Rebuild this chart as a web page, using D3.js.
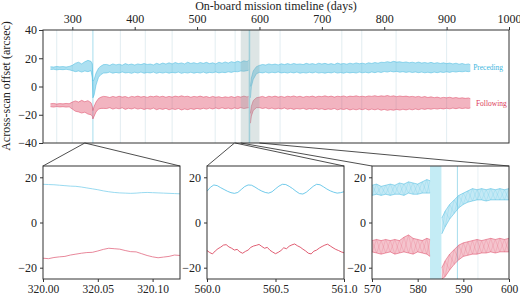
<!DOCTYPE html>
<html>
<head>
<meta charset="utf-8">
<script src="https://cdn.jsdelivr.net/npm/d3@7"></script>
<style>
  body { margin: 0; background: #fff; }
  svg { display: block; font-family: "Liberation Serif", "DejaVu Serif", serif; }
  .tick text { font-size: 12px; fill: #222; font-family: "Liberation Serif", "DejaVu Serif", serif; }
  .zoom-x .tick text { font-size: 11.5px; }
  .tick line { stroke: #333; }
</style>
</head>
<body>
<svg id="chart" width="520" height="295"></svg>
<script>
// ---- main panel: envelope of the across-scan offset band (days, arcsec)
const mainDays = [
  265, 270, 275, 280, 285, 290, 295,
  300, 305, 310, 315, 320, 325, 330,
  332, 333, 335, 338, 342, 346, 350,
  355, 360, 365, 370, 375, 380, 385, 390, 395, 400,
  405, 410, 415, 420, 425, 430, 435, 440, 445, 450,
  455, 460, 465, 470, 475, 480, 485, 490, 495, 500,
  505, 510, 515, 520, 525, 530, 535, 540, 545, 550,
  555, 560, 565, 570, 575, 580,
  582.5, 584, 585.5, 587, 590, 595,
  600, 605, 610, 615, 620, 625, 630, 635, 640, 645,
  650, 655, 660, 665, 670, 675, 680, 685, 690, 695,
  700, 705, 710, 715, 720, 725, 730, 735, 740, 745,
  750, 755, 760, 765, 770, 775, 780, 785, 790, 795,
  800, 805, 810, 815, 820, 825, 830, 835, 840, 845,
  850, 855, 860, 865, 870, 875, 880, 885, 890, 895,
  900, 905, 910, 915, 920, 925, 930, 935,
  938
];
const precHi = [
  14.0, 13.8, 14.2, 13.9, 14.1, 13.8, 14.2,
  15.0, 16.5, 17.2, 16.0, 17.5, 18.5, 17.8,
  16, 4, 5, 9.5, 13, 14.5, 15.5,
  15.6, 15.0, 16.0, 15.3, 15.8, 15.1, 16.2, 15.4, 15.9, 15.2,
  16.0, 15.5, 16.3, 15.6, 15.9, 15.3, 16.4, 15.7, 16.6, 15.9,
  16.8, 16.0, 17.0, 16.2, 16.7, 16.0, 17.2, 16.3, 16.9, 16.1,
  17.0, 16.4, 17.1, 16.2, 16.8, 16.0, 17.2, 16.5, 17.4, 16.6,
  17.6, 17.0, 17.9, 17.2, 18.2, 17.6,
  18.5, null, 0, 6, 11, 14,
  15.0, 15.6, 15.2, 16.0, 15.4, 15.9, 15.3, 16.1, 15.5, 16.2,
  15.6, 16.3, 15.7, 16.0, 15.5, 16.4, 15.8, 16.2, 15.6, 16.5,
  15.9, 16.4, 15.7, 16.2, 15.6, 16.6, 15.9, 16.3, 15.8, 16.5,
  16.0, 16.7, 16.1, 16.5, 16.0, 16.8, 16.3, 17.0, 16.5, 17.2,
  17.0, 17.6, 17.1, 17.8, 17.3, 17.5, 17.0, 17.4, 16.8, 17.2,
  16.7, 17.3, 16.6, 17.0, 16.5, 17.1, 16.4, 16.9, 16.3, 16.8,
  16.2, 16.6, 16.0, 16.5, 15.8, 16.3, 15.6, 16.0,
  15.4
];
const precLo = [
  12.0, 12.2, 11.8, 12.1, 11.9, 12.2, 11.8,
  11.2, 10.5, 11.0, 10.2, 11.0, 10.5, 11.2,
  6, -8, -6, 1, 6.5, 8.5, 9.5,
  9.6, 10.2, 9.4, 10.0, 9.5, 10.3, 9.6, 9.9, 9.3, 10.1,
  9.5, 10.2, 9.4, 9.9, 9.6, 10.2, 9.3, 10.0, 9.5, 10.1,
  9.4, 10.0, 9.6, 10.2, 9.3, 9.9, 9.5, 10.1, 9.4, 10.0,
  9.5, 10.2, 9.4, 10.0, 9.7, 10.3, 9.6, 10.1, 9.8, 10.4,
  10.0, 10.6, 10.4, 11.0, 10.8, 11.2,
  11.5, null, -8, 0, 5, 9,
  10.0, 9.6, 10.2, 9.5, 10.1, 9.7, 10.3, 9.6, 10.0, 9.5,
  10.1, 9.6, 10.2, 9.4, 9.9, 9.5, 10.1, 9.6, 10.2, 9.5,
  9.9, 9.4, 10.0, 9.6, 10.2, 9.5, 9.9, 9.4, 10.1, 9.6,
  10.0, 9.5, 10.2, 9.7, 10.1, 9.6, 10.3, 9.8, 10.4, 9.9,
  10.6, 10.2, 10.8, 10.3, 10.7, 10.1, 10.5, 10.0, 10.4, 9.9,
  10.3, 9.8, 10.2, 9.7, 10.1, 9.6, 10.2, 9.8, 10.3, 9.9,
  10.4, 10.0, 10.6, 10.2, 10.7, 10.4, 10.8, 10.5,
  10.8
];
const follHi = [
  -12.2, -12.0, -12.4, -12.1, -12.3, -12.0, -12.2,
  -11.0, -10.2, -11.0, -9.8, -10.8, -10.0, -11.5,
  -14, -17, -14, -11, -8.5, -7.5, -7,
  -7.2, -7.8, -7.0, -7.6, -6.9, -7.5, -7.1, -7.9, -7.0, -7.4,
  -6.8, -7.5, -7.0, -7.7, -6.9, -7.3, -6.7, -7.4, -6.9, -7.6,
  -7.0, -7.5, -6.8, -7.3, -6.6, -7.2, -6.9, -7.6, -7.0, -7.4,
  -6.8, -7.5, -7.1, -7.8, -7.0, -7.6, -7.2, -7.9, -7.3, -7.7,
  -7.1, -7.8, -7.0, -7.5, -6.8, -7.4,
  -7, null, -19, -14, -10, -8,
  -7.5, -7.0, -7.8, -6.9, -7.4, -6.8, -7.5, -7.0, -7.6, -6.9,
  -7.3, -6.7, -7.4, -6.9, -7.6, -7.0, -7.3, -6.8, -7.5, -6.9,
  -7.2, -6.6, -7.3, -6.8, -7.5, -6.9, -7.2, -6.7, -7.4, -6.8,
  -7.1, -6.6, -7.2, -6.9, -7.3, -6.7, -7.0, -6.5, -7.1, -6.6,
  -6.9, -6.4, -7.0, -6.6, -7.2, -6.7, -7.1, -6.8, -7.3, -7.0,
  -7.4, -7.0, -7.6, -7.1, -7.8, -7.3, -7.9, -7.5, -8.1, -7.7,
  -8.0, -7.6, -8.2, -7.8, -8.3, -8.0, -8.4, -8.1,
  -8.6
];
const follLo = [
  -14.3, -14.6, -14.2, -14.5, -14.3, -14.6, -14.4,
  -16.0, -17.5, -18.0, -18.8, -18.2, -19.5, -20.0,
  -21, -23, -21, -18, -16, -15.5, -15.5,
  -15.6, -15.0, -16.0, -15.3, -15.8, -15.1, -16.2, -15.4, -15.9, -15.2,
  -16.0, -15.4, -16.3, -15.6, -16.1, -15.3, -16.4, -15.7, -16.2, -15.5,
  -16.5, -15.8, -16.3, -15.6, -16.6, -15.9, -16.4, -15.7, -16.2, -15.5,
  -16.1, -15.4, -16.0, -15.3, -15.9, -15.2, -15.8, -15.1, -15.7, -15.3,
  -15.9, -15.2, -15.7, -15.0, -15.6, -15.2,
  -15, null, -26, -21, -17, -15,
  -15.0, -15.6, -15.1, -15.8, -15.3, -16.0, -15.4, -15.9, -15.2, -16.1,
  -15.5, -16.2, -15.6, -16.0, -15.4, -16.3, -15.7, -16.1, -15.5, -16.2,
  -15.8, -16.4, -15.9, -16.2, -15.6, -16.5, -15.9, -16.3, -15.7, -16.6,
  -16.0, -16.5, -15.9, -16.4, -15.8, -16.6, -16.0, -16.5, -15.9, -16.8,
  -16.2, -16.9, -16.4, -16.8, -16.2, -16.7, -16.1, -16.6, -16.0, -16.5,
  -15.9, -16.4, -15.8, -16.2, -15.7, -16.1, -15.6, -16.0, -15.5, -15.9,
  -15.4, -15.8, -15.3, -15.7, -15.2, -15.6, -15.3, -15.5,
  -15.2
];

// faint event markers and the cyan (decontamination) marks
const eventDays = [275, 300, 377, 417, 460, 529, 561, 633, 732, 764, 819, 900];
const cyanDays = [333, 588.7];
const cyanSpan = [582.7, 585.2];
const zoomSpan = [570, 600];

// ---- zoom 1: 320.00 - 320.125 days
const z1Days = [320.000, 320.005, 320.010, 320.015, 320.020, 320.025, 320.030, 320.035, 320.040,
  320.045, 320.050, 320.055, 320.060, 320.065, 320.070, 320.075, 320.080, 320.085, 320.090,
  320.095, 320.100, 320.105, 320.110, 320.115, 320.120, 320.125];
const z1Prec = [16.9, 16.8, 16.7, 16.5, 16.3, 16.1, 16.0, 15.7, 15.3, 14.9, 14.5, 14.0, 13.6,
  13.3, 13.1, 13.0, 12.9, 13.0, 13.2, 13.3, 13.2, 13.1, 13.0, 12.9, 12.8, 12.7];
const z1Foll = [-15.8, -16.0, -15.5, -15.2, -15.0, -14.4, -14.0, -13.6, -13.3, -13.2, -12.6, -11.9,
  -11.4, -11.6, -11.8, -12.4, -12.9, -13.0, -13.8, -14.6, -15.2, -15.6, -15.3, -15.0, -14.4, -14.6];

// ---- zoom 2: 560.0 - 561.0 days
const z2DaysP = [560.000, 560.025, 560.050, 560.075, 560.100, 560.125, 560.150, 560.175, 560.200,
  560.225, 560.250, 560.275, 560.300, 560.325, 560.350, 560.375, 560.400, 560.425, 560.450,
  560.475, 560.500, 560.525, 560.550, 560.575, 560.600, 560.625, 560.650, 560.675, 560.700,
  560.725, 560.750, 560.775, 560.800, 560.825, 560.850, 560.875, 560.900, 560.925, 560.950,
  560.975, 561.000];
const z2Prec = [13.8, 15.6, 16.6, 16.3, 15.4, 14.6, 13.8, 13.2, 12.9, 13.3, 14.6, 15.9, 16.6,
  16.5, 15.7, 14.7, 13.9, 13.3, 13.0, 13.6, 14.9, 16.1, 16.9, 16.8, 16.0, 15.0, 13.8, 12.8,
  12.6, 13.4, 14.7, 16.0, 16.9, 16.7, 15.8, 14.8, 14.0, 13.4, 13.0, 13.2, 13.6];
const z2DaysF = [560.00, 560.02, 560.04, 560.06, 560.08, 560.10, 560.12, 560.14, 560.16, 560.18,
  560.20, 560.22, 560.24, 560.26, 560.28, 560.30, 560.32, 560.34, 560.36, 560.38,
  560.40, 560.42, 560.44, 560.46, 560.48, 560.50, 560.52, 560.54, 560.56, 560.58,
  560.60, 560.62, 560.64, 560.66, 560.68, 560.70, 560.72, 560.74, 560.76, 560.78,
  560.80, 560.82, 560.84, 560.86, 560.88, 560.90, 560.92, 560.94, 560.96, 560.98, 561.00];
const z2Foll = [-12.4, -13.3, -13.9, -12.6, -11.6, -10.9, -10.0, -9.8, -10.8, -11.4,
  -12.2, -11.9, -13.0, -13.6, -12.8, -12.2, -11.0, -10.4, -10.1, -9.7,
  -10.6, -11.4, -11.0, -12.3, -13.1, -13.8, -13.2, -12.4, -11.2, -11.6,
  -10.5, -9.9, -9.5, -10.3, -10.9, -11.8, -12.6, -13.6, -13.9, -12.7,
  -12.2, -11.3, -10.6, -10.0, -9.6, -10.4, -11.2, -11.9, -12.4, -13.0, -13.4];

// ---- zoom 3: 570 - 600 days (band envelope)
const z3Days = [570, 571, 572, 573, 574, 575, 576, 577, 578, 579, 580, 581, 582, 582.7,
  584, 585.3, 586, 587, 588, 589, 590, 591, 592, 593, 594, 595, 596, 597, 598, 599, 600];
const z3PrecHi = [16.5, 17, 16, 16.5, 17, 16.5, 17.5, 17, 18, 17.5, 17, 18, 19, 18.5,
  null, 2, 5, 8, 10, 12, 13, 14, 15, 14.5, 15, 14.5, 15, 14.5, 15, 14.5, 15];
const z3PrecLo = [12, 12.5, 12, 12.5, 12, 12.5, 12.5, 12, 13, 12.5, 12.5, 13, 13, 13,
  null, -5, -2, 1.5, 4, 6.5, 8, 9, 9.5, 10, 10, 9.5, 10, 10, 10, 10, 10];
const z3FollHi = [-8, -7.5, -8, -7.5, -8, -7.5, -8, -6.5, -5.5, -7, -7.5, -8, -7, -7.5,
  null, -20, -17, -14, -12, -10, -9, -8.5, -8, -7.5, -8, -7.5, -7, -7.5, -7, -7.5, -7];
const z3FollLo = [-13, -13.5, -14, -13.5, -13, -14, -13.5, -13, -13.5, -14, -13, -13.5, -14, -15,
  null, -25, -24, -21, -18.5, -16.5, -15, -14.5, -14, -14, -13.5, -13.5, -13, -13.5, -13, -13, -13];

const blue = '#3cb6de';
const red = '#dc3a5a';
const svg = d3.select('#chart');

const xMain = d3.scaleLinear().domain([253, 1000]).range([43, 509]);
const yMain = d3.scaleLinear().domain([-40, 40]).range([143, 30]);

let clipId = 0;
function clipFor(x, y) {
  const id = 'clip' + (clipId++);
  svg.append('clipPath').attr('id', id).append('rect')
    .attr('x', x.range()[0]).attr('y', y.range()[1])
    .attr('width', x.range()[1] - x.range()[0])
    .attr('height', y.range()[0] - y.range()[1]);
  return svg.append('g').attr('clip-path', `url(#${id})`);
}

function frame(x, y) {
  svg.append('rect')
    .attr('x', x.range()[0]).attr('y', y.range()[1])
    .attr('width', x.range()[1] - x.range()[0])
    .attr('height', y.range()[0] - y.range()[1])
    .attr('fill', 'none').attr('stroke', '#333').attr('stroke-width', 1);
}

// strip the axis' own font attributes so the serif from the stylesheet applies
function plainAxis(g) {
  g.attr('font-family', null).attr('font-size', null);
  g.select('.domain').remove();
}

// band drawn as a light fill plus its ragged edges; optional crossing mesh
function band(g, x, y, days, hi, lo, color, fillOpacity, meshOpacity) {
  const pts = days.map((d, i) => ({ d: d, hi: hi[i], lo: lo[i] }));
  g.append('path').datum(pts)
    .attr('d', d3.area().defined(p => p.hi != null)
      .x(p => x(p.d)).y0(p => y(p.lo)).y1(p => y(p.hi)))
    .attr('fill', color).attr('fill-opacity', fillOpacity);
  const line = d3.line().defined(p => p.v != null).x(p => x(p.d)).y(p => y(p.v));
  if (meshOpacity > 0) {
    const zig = pts.map((p, i) => ({ d: p.d, v: i % 2 ? p.lo : p.hi }));
    const zag = pts.map((p, i) => ({ d: p.d, v: i % 2 ? p.hi : p.lo }));
    [zig, zag].forEach(s => g.append('path').datum(s).attr('d', line)
      .attr('fill', 'none').attr('stroke', color)
      .attr('stroke-width', 0.4).attr('stroke-opacity', meshOpacity));
  }
  const top = pts.map(p => ({ d: p.d, v: p.hi }));
  const bot = pts.map(p => ({ d: p.d, v: p.lo }));
  [top, bot].forEach(s => g.append('path').datum(s).attr('d', line)
    .attr('fill', 'none').attr('stroke', color)
    .attr('stroke-width', 0.6).attr('stroke-opacity', 0.8));
}

function trace(g, x, y, days, vals, color) {
  g.append('path').datum(days.map((d, i) => [d, vals[i]]))
    .attr('d', d3.line().x(p => x(p[0])).y(p => y(p[1])))
    .attr('fill', 'none').attr('stroke', color).attr('stroke-width', 0.8);
}

// ---- main panel
const gm = clipFor(xMain, yMain);
gm.selectAll('line.event').data(eventDays).join('line')
  .attr('x1', d => xMain(d)).attr('x2', d => xMain(d))
  .attr('y1', yMain.range()[1]).attr('y2', yMain.range()[0])
  .attr('stroke', '#dbe8ee').attr('stroke-width', 0.8);
gm.append('rect')
  .attr('x', xMain(cyanSpan[0])).attr('width', xMain(cyanSpan[1]) - xMain(cyanSpan[0]))
  .attr('y', yMain.range()[1]).attr('height', yMain.range()[0] - yMain.range()[1])
  .attr('fill', '#a9dfec');
gm.append('line')
  .attr('x1', xMain(cyanDays[0])).attr('x2', xMain(cyanDays[0]))
  .attr('y1', yMain.range()[1]).attr('y2', yMain.range()[0])
  .attr('stroke', '#a6dded').attr('stroke-width', 1);

band(gm, xMain, yMain, mainDays, precHi, precLo, blue, 0.42, 0);
band(gm, xMain, yMain, mainDays, follHi, follLo, red, 0.38, 0);

gm.append('rect')
  .attr('x', xMain(zoomSpan[0])).attr('width', xMain(zoomSpan[1]) - xMain(zoomSpan[0]))
  .attr('y', yMain.range()[1]).attr('height', yMain.range()[0] - yMain.range()[1])
  .attr('fill', '#8eaaaa').attr('fill-opacity', 0.3);

svg.append('g').attr('transform', `translate(0,${yMain.range()[1]})`)
  .call(d3.axisTop(xMain).tickValues([300, 400, 500, 600, 700, 800, 900, 1000])
    .tickFormat(d3.format('d')).tickSize(3).tickPadding(4).tickSizeOuter(0))
  .call(plainAxis);
svg.append('g').attr('transform', `translate(${xMain.range()[0]},0)`)
  .call(d3.axisLeft(yMain).tickValues([-40, -20, 0, 20, 40]).tickSize(4).tickPadding(2).tickSizeOuter(0))
  .call(plainAxis);
frame(xMain, yMain);

svg.append('text').attr('x', 276).attr('y', 10).attr('text-anchor', 'middle')
  .attr('font-size', 12).attr('fill', '#222').text('On-board mission timeline (days)');
svg.append('text').attr('transform', 'translate(10,86) rotate(-90)').attr('text-anchor', 'middle')
  .attr('font-size', 12).attr('fill', '#222').text('Across-scan offset (arcsec)');
svg.append('text').attr('x', xMain(942.5)).attr('y', yMain(13.2)).attr('dy', '0.32em')
  .attr('font-size', 7.5).attr('fill', blue).text('Preceding');
svg.append('text').attr('x', xMain(947)).attr('y', yMain(-11.8)).attr('dy', '0.32em')
  .attr('font-size', 7.5).attr('fill', red).text('Following');

// ---- zoom panels
const panels = [
  { domain: [320, 320.125], range: [43, 180], ticks: [320, 320.05, 320.1], fmt: d3.format('.2f') },
  { domain: [560, 561], range: [207, 344], ticks: [560, 560.5, 561], fmt: d3.format('.1f') },
  { domain: [570, 600], range: [372, 509], ticks: [570, 580, 590, 600], fmt: d3.format('d') }
];
const yZoom = d3.scaleLinear().domain([-25, 25]).range([279, 166]);

panels.forEach((p, k) => {
  const x = d3.scaleLinear().domain(p.domain).range(p.range);
  // connector lines from the main timeline down to the zoom panel
  svg.append('line').attr('x1', xMain(p.domain[0])).attr('y1', yMain.range()[0])
    .attr('x2', p.range[0]).attr('y2', yZoom.range()[1]).attr('stroke', '#222').attr('stroke-width', 0.8);
  svg.append('line').attr('x1', xMain(p.domain[1])).attr('y1', yMain.range()[0])
    .attr('x2', p.range[1]).attr('y2', yZoom.range()[1]).attr('stroke', '#222').attr('stroke-width', 0.8);

  const g = clipFor(x, yZoom);
  if (k === 0) {
    trace(g, x, yZoom, z1Days, z1Prec, '#7fd0ec');
    trace(g, x, yZoom, z1Days, z1Foll, '#e26a82');
  } else if (k === 1) {
    trace(g, x, yZoom, z2DaysP, z2Prec, '#4dbde4');
    trace(g, x, yZoom, z2DaysF, z2Foll, '#d8354f');
  } else {
    g.append('rect').attr('x', x(cyanSpan[0])).attr('width', x(cyanSpan[1]) - x(cyanSpan[0]))
      .attr('y', yZoom.range()[1]).attr('height', yZoom.range()[0] - yZoom.range()[1])
      .attr('fill', '#c4ecf5');
    g.append('line').attr('x1', x(cyanDays[1])).attr('x2', x(cyanDays[1]))
      .attr('y1', yZoom.range()[1]).attr('y2', yZoom.range()[0])
      .attr('stroke', '#a6dded').attr('stroke-width', 1);
    g.append('line').attr('x1', x(593.2)).attr('x2', x(593.2))
      .attr('y1', yZoom.range()[1]).attr('y2', yZoom.range()[0])
      .attr('stroke', '#e2eff3').attr('stroke-width', 0.8);
    band(g, x, yZoom, z3Days, z3PrecHi, z3PrecLo, blue, 0.3, 0.4);
    band(g, x, yZoom, z3Days, z3FollHi, z3FollLo, red, 0.3, 0.4);
  }

  svg.append('g').attr('class', 'zoom-x').attr('transform', `translate(0,${yZoom.range()[0]})`)
    .call(d3.axisBottom(x).tickValues(p.ticks).tickFormat(p.fmt).tickSize(3).tickPadding(2.5).tickSizeOuter(0))
    .call(plainAxis);
  svg.append('g').attr('transform', `translate(${p.range[0]},0)`)
    .call(d3.axisLeft(yZoom).tickValues([-20, 0, 20]).tickSize(3).tickPadding(3).tickSizeOuter(0))
    .call(plainAxis);
  frame(x, yZoom);
});

if (mainDays.length !== precHi.length || mainDays.length !== follLo.length) {
  console.warn('main series length mismatch', mainDays.length, precHi.length, precLo.length, follHi.length, follLo.length);
}
</script>
</body>
</html>
